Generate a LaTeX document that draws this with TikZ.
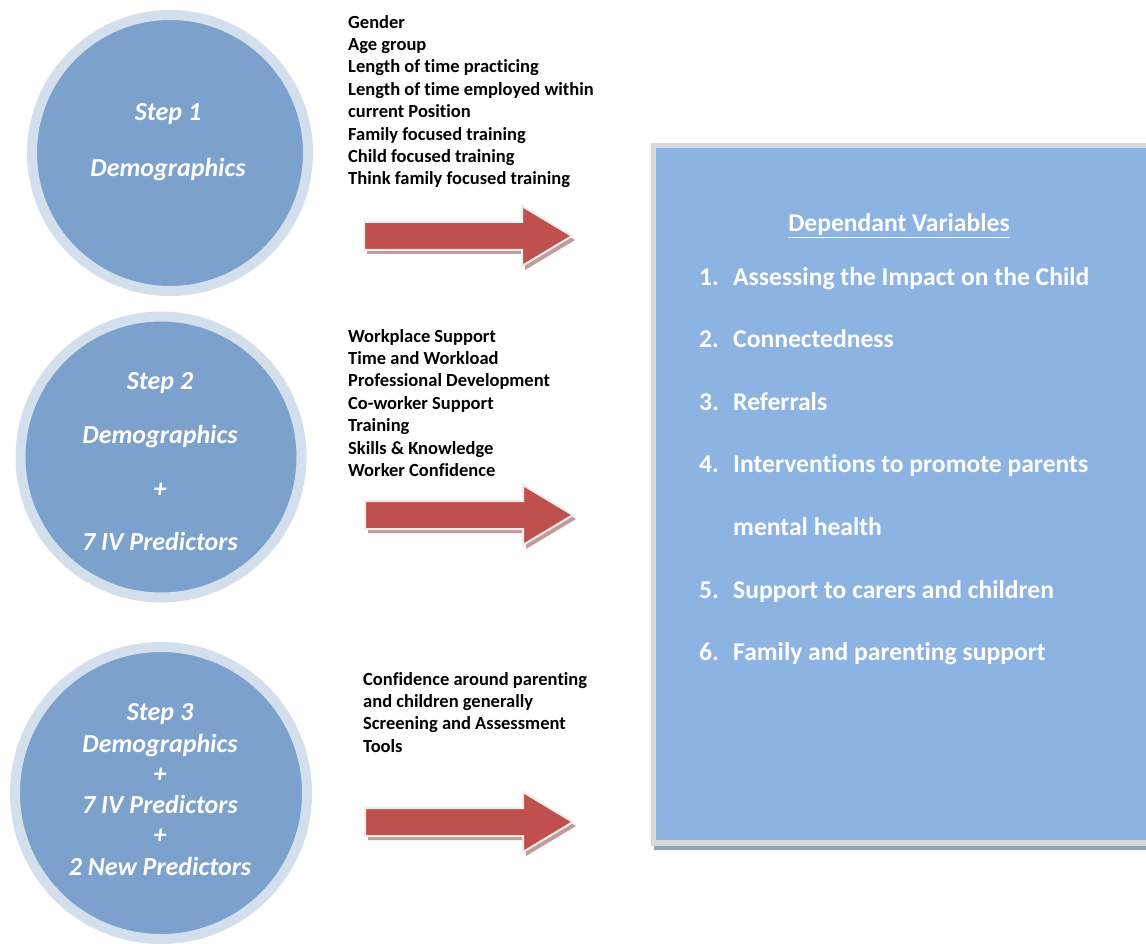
\documentclass[tikz,border=0pt]{standalone}
\usepackage{fontspec}
\setmainfont{Carlito}[Ligatures=NoCommon]
\definecolor{ringc}{HTML}{D4DFEE}
\definecolor{discc}{HTML}{7BA1CC}
\definecolor{arrowc}{HTML}{C0504D}
\definecolor{arrowsh}{HTML}{C29B9B}
\definecolor{boxc}{HTML}{8DB3E2}
\definecolor{boxedge}{HTML}{D9D9D9}
\definecolor{boxsh}{HTML}{95A3B8}
\tikzset{
  stepdisc/.style={circle, fill=discc, draw=ringc, line width=10pt, inner sep=0pt},
  steptext/.style={font=\fontsize{26}{28}\selectfont\bfseries\itshape, text=white, inner sep=0pt, anchor=base},
  listtext/.style={font=\fontsize{18.5}{22.4}\selectfont\bfseries, text=black, anchor=north west, align=left, inner sep=0pt},
  dvtext/.style={font=\fontsize{25.6}{28}\selectfont\bfseries, text=white, anchor=base west, inner sep=0pt},
  arrowbody/.style={fill=arrowc, draw=white!93!black, line width=2pt, line join=miter},
  arrowshadow/.style={fill=arrowsh}
}
\newcommand{\fatarrow}[2]{%
  \fill[arrowshadow] (#1+3,#2+4-14) -- (#1+3+158,#2+4-14) -- (#1+3+158,#2+4-30) -- (#1+3+208,#2+4) -- (#1+3+158,#2+4+30) -- (#1+3+158,#2+4+14) -- (#1+3,#2+4+14) -- cycle;
  \draw[arrowbody] (#1,#2-14) -- (#1+158,#2-14) -- (#1+158,#2-30) -- (#1+208,#2) -- (#1+158,#2+30) -- (#1+158,#2+14) -- (#1,#2+14) -- cycle;
}
\begin{document}
\begin{tikzpicture}[x=1pt,y=-1pt]
\useasboundingbox (0,0) rectangle (1146,944);
\begin{scope}
\clip (0,0) rectangle (1146,944);
% circles
\node[stepdisc, minimum size=276pt] (c1) at (170,153) {};
\node[stepdisc, minimum size=281pt] (c2) at (161,457) {};
\node[stepdisc, minimum size=292pt] (c3) at (161,793) {};

% box
\fill[boxsh] (654,845) rectangle (1150,850);
\fill[boxedge] (651,143) rectangle (1150,846);
\node[fill=boxc, anchor=north west, minimum width=495pt, minimum height=692pt, inner sep=0pt] (dv) at (656,148) {};
\end{scope}

% circle texts
\node[steptext] (s1a) at (168,121) {Step 1};
\node[steptext] (s1b) at (168,177) {Demographics};

\node[steptext] (s2a) at (160,389) {Step 2};
\node[steptext] (s2b) at (160,443) {Demographics};
\node[steptext] (s2c) at (160,497) {+};
\node[steptext] (s2d) at (160,550) {7 IV Predictors};

\node[steptext] (s3a) at (160,720) {Step 3};
\node[steptext] (s3b) at (160,752) {Demographics};
\node[steptext] (s3c) at (160,782) {+};
\node[steptext] (s3d) at (160,813) {7 IV Predictors};
\node[steptext] (s3e) at (160,843) {+};
\node[steptext] (s3f) at (160,875) {2 New Predictors};

% lists
\node[listtext] (l1) at (348,15) {Gender\\Age group\\Length of time practicing\\Length of time employed within\\current Position\\Family focused training\\Child focused training\\Think family focused training};
\node[listtext] (l2) at (348,329) {Workplace Support\\Time and Workload\\Professional Development\\Co-worker Support\\Training\\Skills \& Knowledge\\Worker Confidence};
\node[listtext] (l3) at (363,672) {Confidence around parenting\\and children generally\\Screening and Assessment\\Tools};

% arrows
\fatarrow{364}{236}
\fatarrow{365}{515}
\fatarrow{365}{822}

% DV list
\node[font=\fontsize{25.6}{28}\selectfont\bfseries, text=white, inner sep=0pt, anchor=base] (dvt) at (899,232) {\underline{Dependant Variables}};
\node[dvtext] (n1) at (699,285) {1.};
\node[dvtext] (t1) at (733,285) {Assessing the Impact on the Child};
\node[dvtext] (n2) at (699,347.6) {2.};
\node[dvtext] (t2) at (733,347.6) {Connectedness};
\node[dvtext] (n3) at (699,410.2) {3.};
\node[dvtext] (t3) at (733,410.2) {Referrals};
\node[dvtext] (n4) at (699,472.8) {4.};
\node[dvtext] (t4) at (733,472.8) {Interventions to promote parents};
\node[dvtext] (t4b) at (733,535.4) {mental health};
\node[dvtext] (n5) at (699,598) {5.};
\node[dvtext] (t5) at (733,598) {Support to carers and children};
\node[dvtext] (n6) at (699,660.6) {6.};
\node[dvtext] (t6) at (733,660.6) {Family and parenting support};
\end{tikzpicture}
\end{document}
